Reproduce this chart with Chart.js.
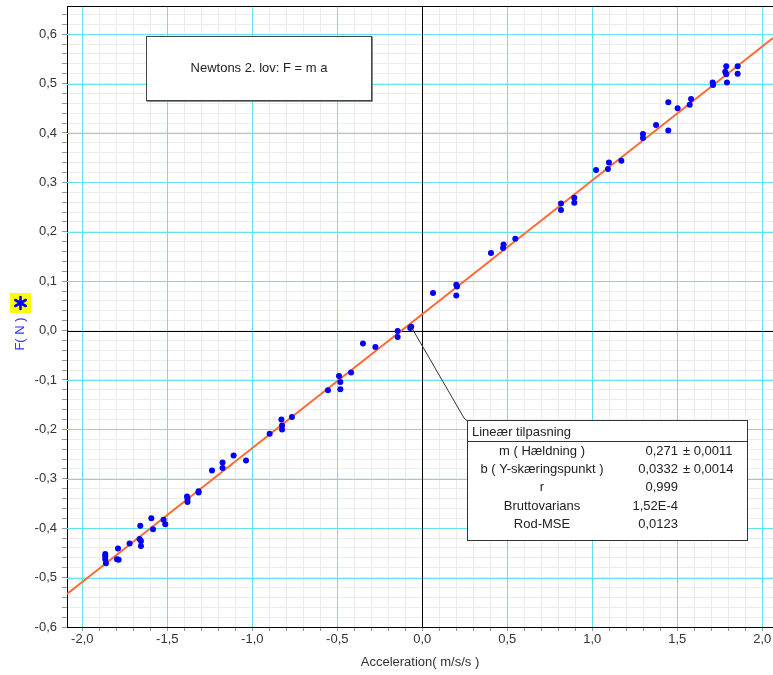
<!DOCTYPE html>
<html><head><meta charset="utf-8">
<script src="https://cdn.jsdelivr.net/npm/chart.js@4"></script>
<style>html,body{margin:0;padding:0;background:#fff;overflow:hidden;width:773px;height:675px}</style>
</head><body>
<canvas id="c" width="776" height="675"></canvas>
<script>
// ---- data ----
const accel = [-1.865,-1.865,-1.865,-1.861,-1.790,-1.796,-1.786,-1.722,-1.659,-1.663,-1.655,-1.655,-1.594,-1.584,-1.522,-1.512,
  -1.384,-1.381,-1.381,-1.316,-1.316,-1.237,-1.175,-1.175,-1.110,-1.037,-0.898,-0.829,-0.825,-0.825,-0.767,-0.555,-0.490,-0.482,-0.482,-0.419,
  -0.349,-0.276,-0.145,-0.145,-0.071,-0.065,0.063,0.200,0.204,0.200,0.404,0.478,0.475,0.547,0.816,0.816,0.894,0.894,1.022,1.098,1.092,1.171,
  1.298,1.298,1.375,1.447,1.447,1.502,1.573,1.581,1.708,1.710,1.788,1.782,1.788,1.792,1.855,1.855];
const force = [-0.452,-0.457,-0.463,-0.471,-0.441,-0.463,-0.464,-0.431,-0.395,-0.422,-0.426,-0.436,-0.380,-0.402,-0.383,-0.392,
  -0.336,-0.341,-0.347,-0.325,-0.328,-0.283,-0.267,-0.278,-0.253,-0.263,-0.209,-0.180,-0.192,-0.200,-0.175,-0.121,-0.092,-0.104,-0.119,-0.085,
  -0.026,-0.033,-0.001,-0.013,0.005,0.008,0.076,0.093,0.089,0.071,0.157,0.174,0.167,0.186,0.257,0.244,0.269,0.259,0.325,0.340,0.327,0.344,
  0.398,0.390,0.416,0.462,0.405,0.450,0.457,0.469,0.502,0.497,0.535,0.524,0.519,0.502,0.535,0.520];
const fitSlope = 0.271;
const fitIntercept = 0.0332;
const xRange = [-2.09, 2.063];
const yRange = [-0.6, 0.657];
const xMajor = [-2.0,-1.5,-1.0,-0.5,0.0,0.5,1.0,1.5,2.0];
const xTickLabels = ['-2,0','-1,5','-1,0','-0,5','0,0','0,5','1,0','1,5','2,0'];
const yMajor = [-0.6,-0.5,-0.4,-0.3,-0.2,-0.1,0.0,0.1,0.2,0.3,0.4,0.5,0.6];
const yTickLabels = ['-0,6','-0,5','-0,4','-0,3','-0,2','-0,1','0,0','0,1','0,2','0,3','0,4','0,5','0,6'];
const xTitle = 'Acceleration( m/s/s )';
const yTitle = 'F( N )';
const noteText = 'Newtons 2. lov: F = m a';
const statsTitle = 'Lineær tilpasning';
const statsLabels = ['m ( Hældning )','b ( Y-skæringspunkt )','r','Bruttovarians','Rod-MSE'];
const statsValues = ['0,271','0,0332','0,999','1,52E-4','0,0123'];
const statsErrors = ['± 0,0011','± 0,0014','','',''];
const leaderPoint = {x: -0.071, y: 0.005};

// ---- helpers ----
const FONT = '"Liberation Sans", Arial, sans-serif';
const near = (a,b) => Math.abs(a-b) < 1e-6;
const isMult = (v, s) => Math.abs(v/s - Math.round(v/s)) < 1e-6;
const CYAN = '#62e4ee', MINOR = '#ececec';
function labelFor(major, labels){
  return v => { const i = major.findIndex(m => near(m,v)); return i >= 0 ? labels[i] : ''; };
}

const points = accel.map((a,i) => ({x:a, y:force[i]}));
const fitLine = xRange.map(x => ({x, y: fitSlope*x + fitIntercept}));

// redraw major + zero grid lines over the minor ones
const majorGrid = {
  id:'majorGrid',
  beforeDatasetsDraw(chart){
    const ctx = chart.ctx, a = chart.chartArea;
    const sx = chart.scales.x, sy = chart.scales.y;
    ctx.save(); ctx.lineWidth = 1;
    const drawV = (v, col) => { const p = Math.round(sx.getPixelForValue(v))+0.5; ctx.strokeStyle = col; ctx.beginPath(); ctx.moveTo(p, a.top); ctx.lineTo(p, a.bottom); ctx.stroke(); };
    const drawH = (v, col) => { const p = Math.round(sy.getPixelForValue(v))+0.5; ctx.strokeStyle = col; ctx.beginPath(); ctx.moveTo(a.left, p); ctx.lineTo(a.right, p); ctx.stroke(); };
    xMajor.filter(v => !near(v,0)).forEach(v => drawV(v, CYAN));
    yMajor.filter(v => !near(v,0) && v > yRange[0]+1e-6).forEach(v => drawH(v, CYAN));
    drawV(0, '#000'); drawH(0, '#000');
    ctx.restore();
  }
};

const decor = {
  id:'decor',
  afterDraw(chart){
    const ctx = chart.ctx, a = chart.chartArea;
    const sx = chart.scales.x, sy = chart.scales.y;
    ctx.save();
    // top border of plot
    ctx.strokeStyle = '#000'; ctx.lineWidth = 1;
    ctx.beginPath(); ctx.moveTo(a.left, Math.round(a.top)+0.5); ctx.lineTo(a.right, Math.round(a.top)+0.5); ctx.stroke();

    // y title with marker
    ctx.fillStyle = '#ffff00';
    ctx.fillRect(10, 293, 21, 20);
    ctx.strokeStyle = '#0000ff'; ctx.lineWidth = 2.6; ctx.lineCap = 'round';
    const cx = 20.5, cy = 303, r = 6;
    for (let k=0;k<3;k++){
      const ang = Math.PI/2 + k*Math.PI/3;
      ctx.beginPath(); ctx.moveTo(cx - r*Math.cos(ang), cy - r*Math.sin(ang)); ctx.lineTo(cx + r*Math.cos(ang), cy + r*Math.sin(ang)); ctx.stroke();
    }
    ctx.save();
    ctx.translate(20, 334); ctx.rotate(-Math.PI/2);
    ctx.font = '13px ' + FONT; ctx.fillStyle = '#3333ff';
    ctx.textAlign = 'center'; ctx.textBaseline = 'middle';
    ctx.fillText(yTitle, 0, 0);
    ctx.restore();

    // note box
    ctx.fillStyle = '#fff'; ctx.strokeStyle = '#444'; ctx.lineWidth = 1;
    ctx.fillRect(146.5, 36.5, 225, 64);
    ctx.strokeRect(146.5, 36.5, 225, 64);
    ctx.beginPath(); ctx.moveTo(147, 101.5); ctx.lineTo(372.5, 101.5); ctx.lineTo(372.5, 37); ctx.strokeStyle='#888'; ctx.stroke();
    ctx.fillStyle = '#222'; ctx.font = '13px ' + FONT;
    ctx.textAlign = 'center'; ctx.textBaseline = 'middle';
    ctx.fillText(noteText, 259, 68.5);

    // leader line
    const px = sx.getPixelForValue(leaderPoint.x), py = sy.getPixelForValue(leaderPoint.y);
    ctx.strokeStyle = '#333'; ctx.lineWidth = 1;
    ctx.beginPath(); ctx.moveTo(px, py-3); ctx.lineTo(464, 418); ctx.quadraticCurveTo(466,420,467.5,421); ctx.stroke();

    // stats box
    const bx = 467.5, by = 420.5, bw = 280, bh = 120;
    ctx.fillStyle = '#fff'; ctx.fillRect(bx, by, bw, bh);
    ctx.strokeStyle = '#333'; ctx.strokeRect(bx, by, bw, bh);
    ctx.beginPath(); ctx.moveTo(bx, 441.5); ctx.lineTo(bx+bw, 441.5); ctx.stroke();
    ctx.fillStyle = '#222'; ctx.font = '13px ' + FONT; ctx.textBaseline = 'middle';
    ctx.textAlign = 'left'; ctx.fillText(statsTitle, 472, 432);
    const rowY = [451, 469, 487, 506, 524];
    statsLabels.forEach((l,i) => {
      ctx.textAlign = 'center'; ctx.fillText(l, 542, rowY[i]);
      ctx.textAlign = 'right'; ctx.fillText(statsValues[i], 678, rowY[i]);
      if (statsErrors[i]) { ctx.textAlign = 'left'; ctx.fillText(statsErrors[i], 683, rowY[i]); }
    });
    ctx.restore();
  }
};

new Chart(document.getElementById('c'), {
  type: 'scatter',
  data: { datasets: [
    { data: points, backgroundColor:'#0000ff', borderWidth:0, pointRadius:3, pointHoverRadius:3, order:0 },
    { data: fitLine, showLine:true, borderColor:'#ff6a33', borderWidth:2, pointRadius:0, order:1 }
  ]},
  options: {
    responsive:false, animation:false, devicePixelRatio:1,
    layout:{ padding:{ left:0, right:0, top:6, bottom:0 } },
    plugins:{ legend:{display:false}, tooltip:{enabled:false} },
    scales: {
      x: {
        type:'linear', min:xRange[0], max:xRange[1],
        afterBuildTicks: s => { s.ticks = s.ticks.filter(t => isMult(t.value, 0.1)); },
        afterFit: s => { s.height = 48; s.paddingLeft = 0; s.paddingRight = 0; },
        ticks:{ stepSize:0.1, includeBounds:false, autoSkip:false, maxRotation:0, padding:1, color:'#333', font:{size:13, family:FONT}, callback: labelFor(xMajor, xTickLabels) },
        grid:{ color: MINOR, lineWidth:1, tickLength:4, tickColor:'#999' },
        border:{ display:true, color:'#000', width:1 },
        title:{ display:true, text:xTitle, color:'#333', font:{size:13, family:FONT}, padding:{top:0,bottom:5} }
      },
      y: {
        type:'linear', min:yRange[0], max:yRange[1],
        afterBuildTicks: s => { s.ticks = s.ticks.filter(t => isMult(t.value, 0.02)); },
        afterFit: s => { s.width = 67; s.paddingTop = 0; s.paddingBottom = 0; },
        ticks:{ stepSize:0.02, includeBounds:false, autoSkip:false, padding:5, color:'#333', font:{size:13, family:FONT}, callback: labelFor(yMajor, yTickLabels) },
        grid:{ color: MINOR, lineWidth:1, tickLength:5, tickColor:'#999' },
        border:{ display:true, color:'#000', width:1 }
      }
    }
  },
  plugins:[majorGrid, decor]
});
</script>
</body></html>
